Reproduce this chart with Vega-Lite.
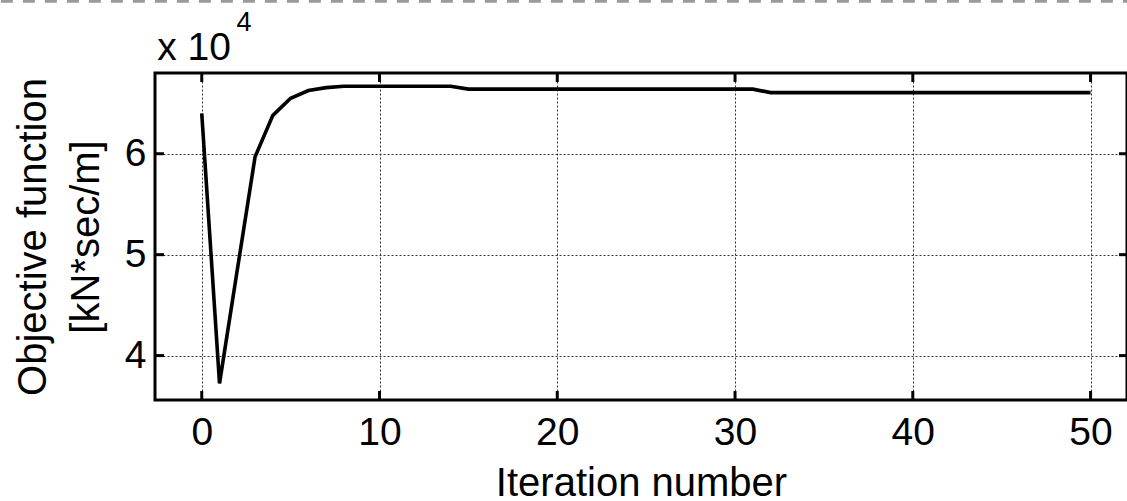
{
  "$schema": "https://vega.github.io/schema/vega-lite/v6.json",
  "width": 972,
  "height": 327,
  "autosize": "none",
  "padding": {"left": 155, "top": 73, "right": 0, "bottom": 101},
  "background": "white",
  "config": {
    "font": "Liberation Sans",
    "view": {"stroke": "black", "strokeWidth": 3},
    "axis": {
      "domain": false, "ticks": false,
      "gridColor": "#333", "gridWidth": 1, "gridDash": [2, 2], "gridOpacity": 1,
      "labelFont": "Liberation Sans", "labelFontSize": 39, "labelColor": "black",
      "titleFont": "Liberation Sans", "titleFontSize": 40, "titleFontWeight": "normal", "titleColor": "black"
    }
  },
  "datasets": {
    "curve": [
      {"iter": 0, "obj": 6.40},
      {"iter": 1, "obj": 3.725},
      {"iter": 2, "obj": 4.85},
      {"iter": 3, "obj": 5.97},
      {"iter": 4, "obj": 6.38},
      {"iter": 5, "obj": 6.55},
      {"iter": 6, "obj": 6.626},
      {"iter": 7, "obj": 6.655},
      {"iter": 8, "obj": 6.668},
      {"iter": 9, "obj": 6.668},
      {"iter": 10, "obj": 6.668},
      {"iter": 11, "obj": 6.668},
      {"iter": 12, "obj": 6.668},
      {"iter": 13, "obj": 6.668},
      {"iter": 14, "obj": 6.668},
      {"iter": 15, "obj": 6.64},
      {"iter": 16, "obj": 6.64},
      {"iter": 17, "obj": 6.64},
      {"iter": 18, "obj": 6.64},
      {"iter": 19, "obj": 6.64},
      {"iter": 20, "obj": 6.64},
      {"iter": 21, "obj": 6.64},
      {"iter": 22, "obj": 6.64},
      {"iter": 23, "obj": 6.64},
      {"iter": 24, "obj": 6.64},
      {"iter": 25, "obj": 6.64},
      {"iter": 26, "obj": 6.64},
      {"iter": 27, "obj": 6.64},
      {"iter": 28, "obj": 6.64},
      {"iter": 29, "obj": 6.64},
      {"iter": 30, "obj": 6.64},
      {"iter": 31, "obj": 6.64},
      {"iter": 32, "obj": 6.606},
      {"iter": 33, "obj": 6.606},
      {"iter": 34, "obj": 6.606},
      {"iter": 35, "obj": 6.606},
      {"iter": 36, "obj": 6.606},
      {"iter": 37, "obj": 6.606},
      {"iter": 38, "obj": 6.606},
      {"iter": 39, "obj": 6.606},
      {"iter": 40, "obj": 6.606},
      {"iter": 41, "obj": 6.606},
      {"iter": 42, "obj": 6.606},
      {"iter": 43, "obj": 6.606},
      {"iter": 44, "obj": 6.606},
      {"iter": 45, "obj": 6.606},
      {"iter": 46, "obj": 6.606},
      {"iter": 47, "obj": 6.606},
      {"iter": 48, "obj": 6.606},
      {"iter": 49, "obj": 6.606},
      {"iter": 50, "obj": 6.606}
    ],
    "xticks": [{"t": 0}, {"t": 10}, {"t": 20}, {"t": 30}, {"t": 40}, {"t": 50}],
    "yticks": [{"t": 4}, {"t": 5}, {"t": 6}]
  },
  "layer": [
    {
      "data": {"name": "curve"},
      "mark": {"type": "line", "color": "black", "strokeWidth": 3.6, "clip": true},
      "encoding": {
        "x": {"field": "iter", "type": "quantitative",
              "scale": {"domain": [-2.63, 52.05], "nice": false, "zero": false},
              "axis": {"values": [0, 10, 20, 30, 40, 50], "format": "d", "grid": true, "title": "Iteration number",
                       "labelPadding": 13, "titlePadding": 11, "labelFlush": false}},
        "y": {"field": "obj", "type": "quantitative",
              "scale": {"domain": [3.56, 6.80], "nice": false, "zero": false},
              "axis": {"values": [4, 5, 6], "format": "d", "grid": true, "title": ["Objective function", "[kN*sec/m]"],
                       "labelPadding": 9, "titlePadding": 18, "titleLineHeight": 53, "labelFlush": false}}
      }
    },
    {
      "data": {"name": "xticks"},
      "mark": {"type": "rule", "color": "black", "strokeWidth": 3},
      "encoding": {
        "x": {"field": "t", "type": "quantitative"},
        "y": {"datum": 3.56, "type": "quantitative"},
        "y2": {"datum": 3.649}
      }
    },
    {
      "data": {"name": "xticks"},
      "mark": {"type": "rule", "color": "black", "strokeWidth": 3},
      "encoding": {
        "x": {"field": "t", "type": "quantitative"},
        "y": {"datum": 6.80, "type": "quantitative"},
        "y2": {"datum": 6.711}
      }
    },
    {
      "data": {"name": "yticks"},
      "mark": {"type": "rule", "color": "black", "strokeWidth": 3},
      "encoding": {
        "y": {"field": "t", "type": "quantitative"},
        "x": {"datum": -2.63, "type": "quantitative"},
        "x2": {"datum": -2.124}
      }
    },
    {
      "data": {"name": "yticks"},
      "mark": {"type": "rule", "color": "black", "strokeWidth": 3},
      "encoding": {
        "y": {"field": "t", "type": "quantitative"},
        "x": {"datum": 52.05, "type": "quantitative"},
        "x2": {"datum": 51.6}
      }
    },
    {
      "data": {"values": [{}]},
      "mark": {"type": "text", "fontSize": 39, "align": "left", "baseline": "alphabetic", "color": "black", "font": "Liberation Sans"},
      "encoding": {
        "x": {"datum": -2.51, "type": "quantitative"},
        "y": {"datum": 6.926, "type": "quantitative"},
        "text": {"value": "x 10"}
      }
    },
    {
      "data": {"values": [{}]},
      "mark": {"type": "text", "fontSize": 27, "align": "left", "baseline": "alphabetic", "color": "black", "font": "Liberation Sans"},
      "encoding": {
        "x": {"datum": 1.95, "type": "quantitative"},
        "y": {"datum": 7.22, "type": "quantitative"},
        "text": {"value": "4"}
      }
    },
    {
      "data": {"values": [{}]},
      "mark": {"type": "rule", "color": "#999", "strokeWidth": 3, "strokeDash": [12, 10]},
      "encoding": {
        "x": {"datum": -11.3, "type": "quantitative"},
        "x2": {"datum": 52.05},
        "y": {"datum": 7.51, "type": "quantitative"}
      }
    }
  ]
}
